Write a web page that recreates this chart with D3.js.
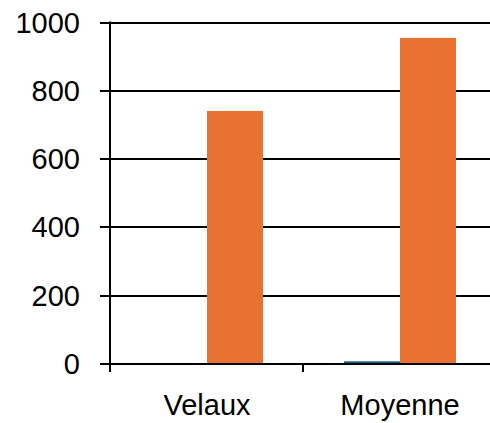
<!DOCTYPE html>
<html>
<head>
<meta charset="utf-8">
<script src="https://cdn.jsdelivr.net/npm/d3@7/dist/d3.min.js"></script>
<style>
  html, body { margin: 0; padding: 0; background: #ffffff; }
  svg { display: block; }
  text { font-family: "Liberation Sans", Arial, sans-serif; fill: #000; }
</style>
</head>
<body>
<svg id="chart" width="490" height="423"></svg>
<script>
const categories = ["Velaux", "Moyenne"];
const seriesNames = ["Série 1", "Série 2"];
const series1 = [0, 5];
const series2 = [738, 952];
const yTicks = [0, 200, 400, 600, 800, 1000];

const colors = ["#156082", "#E97132"];

const svg = d3.select("#chart");
const W = 490, H = 423;

const y = d3.scaleLinear().domain([0, 1000]).range([364, 22.5]);
const x0 = d3.scaleBand().domain(categories).range([110, 496]).paddingInner(0).paddingOuter(0);
const x1 = d3.scaleBand().domain(seriesNames).range([41, 41 + 112]).padding(0);

// gridlines
svg.append("g").selectAll("line").data(yTicks).join("line")
  .attr("x1", 100).attr("x2", W)
  .attr("y1", d => Math.round(y(d))).attr("y2", d => Math.round(y(d)))
  .attr("stroke", "#000").attr("stroke-width", 2);

// bars
const data = categories.map((c, i) => ({ cat: c, vals: [series1[i], series2[i]] }));
const groups = svg.append("g").selectAll("g").data(data).join("g")
  .attr("transform", d => `translate(${x0(d.cat)},0)`);
groups.selectAll("rect").data(d => d.vals.map((v, j) => ({ v, s: seriesNames[j], j })))
  .join("rect")
  .attr("x", d => x1(d.s))
  .attr("width", x1.bandwidth())
  .attr("y", d => y(d.v) - 1)
  .attr("height", d => y(0) - y(d.v))
  .attr("fill", d => colors[d.j]);

// x axis baseline
svg.append("line")
  .attr("x1", 100).attr("x2", W)
  .attr("y1", Math.round(y(0))).attr("y2", Math.round(y(0)))
  .attr("stroke", "#000").attr("stroke-width", 2);

// y axis line
svg.append("line")
  .attr("x1", 110).attr("x2", 110)
  .attr("y1", y(1000) - 1).attr("y2", y(0) + 8)
  .attr("stroke", "#000").attr("stroke-width", 2);

// x category boundary ticks
svg.append("g").selectAll("line").data(categories.slice(1)).join("line")
  .attr("x1", d => x0(d)).attr("x2", d => x0(d))
  .attr("y1", y(0)).attr("y2", y(0) + 8)
  .attr("stroke", "#000").attr("stroke-width", 2);

// y labels
svg.append("g").selectAll("text").data(yTicks).join("text")
  .attr("x", 80)
  .attr("y", d => y(d) + 10)
  .attr("text-anchor", "end")
  .attr("font-size", 29)
  .text(d => d);

// x labels
svg.append("g").selectAll("text").data(categories).join("text")
  .attr("x", d => x0(d) + x1("Série 2"))
  .attr("y", 415)
  .attr("text-anchor", "middle")
  .attr("font-size", 29)
  .text(d => d);
</script>
</body>
</html>
